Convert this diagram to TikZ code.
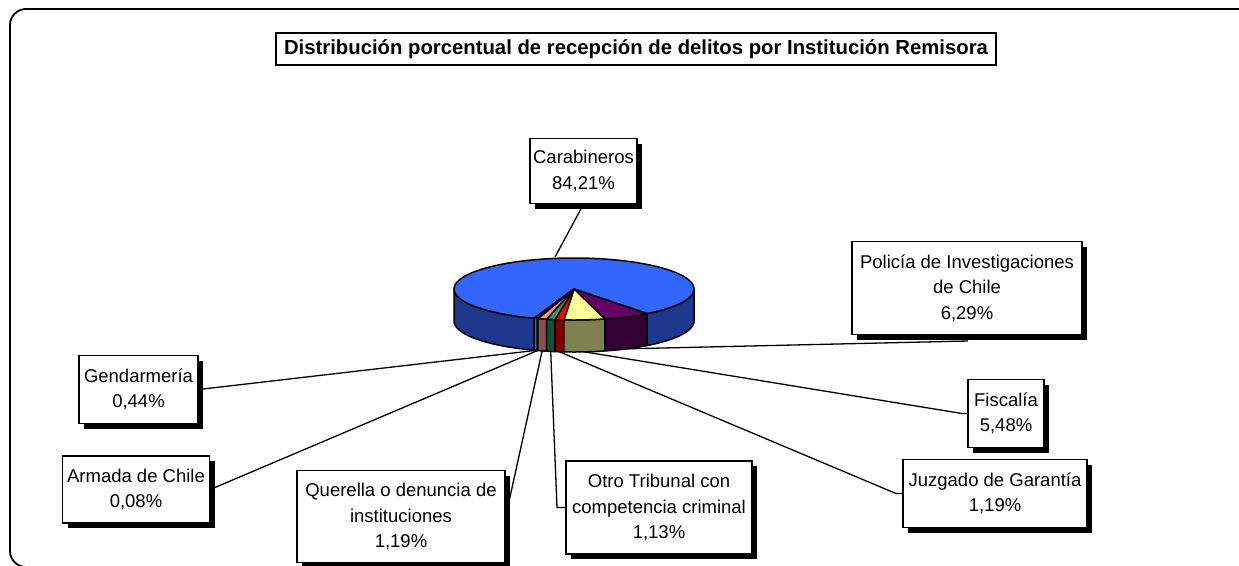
\documentclass[tikz,border=0pt]{standalone}
\usepackage{fontspec}
\setmainfont{Liberation Sans}
\usetikzlibrary{shadows}
\definecolor{cbTop}{HTML}{3366FF}\definecolor{cbSide}{HTML}{1C378C}
\definecolor{plTop}{HTML}{660066}\definecolor{plSide}{HTML}{330033}
\definecolor{fsTop}{HTML}{FFFF99}\definecolor{fsSide}{HTML}{808050}
\definecolor{jzTop}{HTML}{FF0000}\definecolor{jzSide}{HTML}{800000}
\definecolor{otTop}{HTML}{339966}\definecolor{otSide}{HTML}{1A4D33}
\definecolor{qrTop}{HTML}{FF8F8F}\definecolor{qrSide}{HTML}{8B5050}
\definecolor{amTop}{HTML}{000080}\definecolor{amSide}{HTML}{000040}
\definecolor{gdTop}{HTML}{3399FF}\definecolor{gdSide}{HTML}{2A6FB0}
\def\pcx{574}\def\pcy{289}\def\prx{120}\def\pry{31}\def\pdep{32}
\newcommand\pieside[3]{\filldraw[pieline, fill=#3] plot[domain=#1:#2, samples=20] ({\pcx+\prx*cos(\x)},{\pcy-\pry*sin(\x)}) -- plot[domain=#2:#1, samples=20] ({\pcx+\prx*cos(\x)},{\pcy-\pry*sin(\x)+\pdep}) -- cycle;}
\newcommand\pietop[3]{\filldraw[pieline, fill=#3] (\pcx,\pcy) -- plot[domain=#1:#2, samples=80] ({\pcx+\prx*cos(\x)},{\pcy-\pry*sin(\x)}) -- cycle;}
\tikzset{
  pieline/.style={draw=black, line width=1.5pt, line join=round},
  lbl/.style={draw=black, line width=1.4pt, fill=white, align=center, inner sep=0pt,
    font=\fontsize{18.5}{25.5}\selectfont,
    drop shadow={opacity=1, fill=black, shadow xshift=5pt, shadow yshift=-5pt}},
  leader/.style={draw=black, line width=1.3pt},
}
\begin{document}
\begin{tikzpicture}[x=1pt,y=-1pt]
\useasboundingbox (0,0) rectangle (1239,565);
\fill[white] (0,0) rectangle (1239,565);
% frame
\draw[line width=1.8pt, rounded corners=16pt] (1260,9) -- (10,9) -- (10,567) -- (1260,567);
% title
\node[draw=black, line width=1.4pt, inner sep=0pt, minimum width=720pt, minimum height=32pt,
  font=\fontsize{20.3}{24}\selectfont\bfseries] (title) at (636,49)
  {Distribución porcentual de recepción de delitos por Institución Remisora};
% label boxes
\node[lbl, minimum width=107pt, minimum height=65pt] (carab) at (583.5,171) {Carabineros\\84,21\%};
\node[lbl, minimum width=230pt, minimum height=93pt] (pol) at (967,288) {Policía de Investigaciones\\de Chile\\6,29\%};
\node[lbl, minimum width=76pt, minimum height=68pt] (fisc) at (1006,413.5) {Fiscalía\\5,48\%};
\node[lbl, minimum width=184pt, minimum height=68pt] (juz) at (995,493.5) {Juzgado de Garantía\\1,19\%};
\node[lbl, minimum width=186pt, minimum height=93pt] (otro) at (659,507.5) {Otro Tribunal con\\competencia criminal\\1,13\%};
\node[lbl, minimum width=208pt, minimum height=92pt] (quer) at (401,516.5) {Querella o denuncia de\\instituciones\\1,19\%};
\node[lbl, minimum width=147pt, minimum height=67pt] (arm) at (136,489.5) {Armada de Chile\\0,08\%};
\node[lbl, minimum width=119pt, minimum height=68pt] (gend) at (138.5,389.5) {Gendarmería\\0,44\%};
% leader anchor points on the pie
\coordinate (pCb) at (555,257);
\coordinate (pPl) at ({\pcx+\prx*cos(-63.8)},{\pcy-\pry*sin(-63.8)+\pdep});
\coordinate (pFs) at ({\pcx+\prx*cos(-84.9)},{\pcy-\pry*sin(-84.9)+\pdep});
\coordinate (pJz) at ({\pcx+\prx*cos(-97)},{\pcy-\pry*sin(-97)+\pdep});
\coordinate (pOt) at ({\pcx+\prx*cos(-101.2)},{\pcy-\pry*sin(-101.2)+\pdep});
\coordinate (pQr) at ({\pcx+\prx*cos(-105.4)},{\pcy-\pry*sin(-105.4)+\pdep});
\coordinate (pAm) at ({\pcx+\prx*cos(-107.7)},{\pcy-\pry*sin(-107.7)+\pdep});
\coordinate (pGd) at ({\pcx+\prx*cos(-108.6)},{\pcy-\pry*sin(-108.6)+\pdep});
\coordinate (kPl) at (968,341);
\coordinate (kFs) at (962,413.5);
\coordinate (kJz) at (896,493.5);
\coordinate (kOt) at (557,507.5);
% leaders
\draw[leader] (carab.south) -- (pCb);
\draw[leader] (kPl) -- (pPl);
\draw[leader] (fisc.west) -- (kFs) -- (pFs);
\draw[leader] (juz.west) -- (kJz) -- (pJz);
\draw[leader] (otro.west) -- (kOt) -- (pOt);
\draw[leader] (quer.east) -- (pQr);
\draw[leader] (arm.east) -- (pAm);
\draw[leader] (gend.east) -- (pGd);
% pie sides
\pieside{-180}{-109.4}{cbSide}
\pieside{-109.4}{-107.8}{gdSide}
\pieside{-107.8}{-107.5}{amSide}
\pieside{-107.5}{-103.2}{qrSide}
\pieside{-103.2}{-99.1}{otSide}
\pieside{-99.1}{-94.8}{jzSide}
\pieside{-94.8}{-75.1}{fsSide}
\pieside{-75.1}{-52.5}{plSide}
\pieside{-52.5}{0}{cbSide}
% pie top
\pietop{-52.5}{250.6}{cbTop}
\pietop{-75.1}{-52.5}{plTop}
\pietop{-94.8}{-75.1}{fsTop}
\pietop{-99.1}{-94.8}{jzTop}
\pietop{-103.2}{-99.1}{otTop}
\pietop{-107.5}{-103.2}{qrTop}
\pietop{-107.8}{-107.5}{amTop}
\pietop{-109.4}{-107.8}{gdTop}
\end{tikzpicture}
\end{document}
